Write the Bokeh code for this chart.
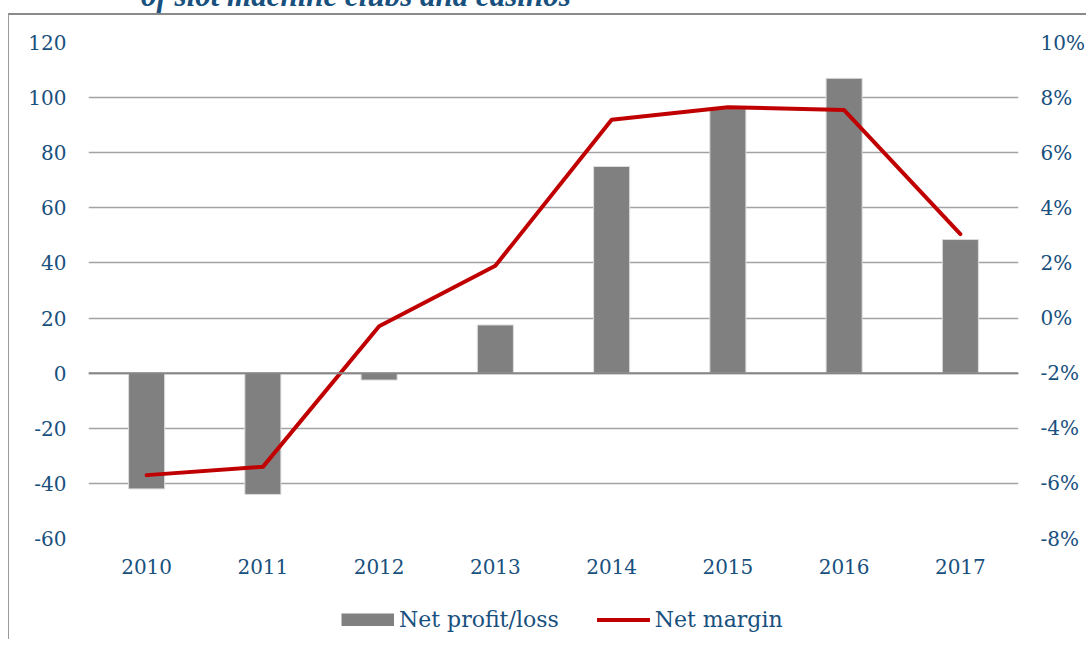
from bokeh.plotting import figure
from bokeh.models import (Range1d, LinearAxis, FixedTicker, PrintfTickFormatter,
                          Legend, LegendItem, Span, Div, ColumnDataSource, FactorRange)
from bokeh.layouts import column
from bokeh.embed import file_html
from bokeh.resources import INLINE

# ---- data ----
years = ["2010", "2011", "2012", "2013", "2014", "2015", "2016", "2017"]
net_profit = [-42, -44, -2.5, 17.5, 75, 96, 107, 48.5]          # left axis
net_margin = [-5.7, -5.4, -0.3, 1.9, 7.2, 7.65, 7.55, 3.05]       # right axis, %
left_ticks = [-60, -40, -20, 0, 20, 40, 60, 80, 100, 120]
right_ticks = [-8, -6, -4, -2, 0, 2, 4, 6, 8, 10]
title_text = "of slot machine clubs and casinos"
series_names = ["Net profit/loss", "Net margin"]

TEXT = "#18507e"
FONT = "DejaVu Serif"
BAR = "#808080"
RED = "#c00000"
GRID = "#a3a3a3"

src = ColumnDataSource(dict(year=years, profit=net_profit, margin=net_margin))

# ---------------- main chart ----------------
p = figure(width=1078, height=579, x_range=FactorRange(*years),
           y_range=Range1d(-60, 120), output_backend="svg",
           toolbar_location=None, tools="")
p.styles = {"border-top": "2px solid #8a8a8a", "border-left": "1px solid #9a9a9a"}
p.min_border_left = 79
p.min_border_right = 67
p.min_border_top = 27
p.min_border_bottom = 56
p.outline_line_color = None
p.background_fill_color = "white"
p.border_fill_color = "white"

p.extra_y_ranges = {"pct": Range1d(-8, 10)}

p.xgrid.grid_line_color = None
p.ygrid.ticker = FixedTicker(ticks=left_ticks)
p.ygrid.grid_line_color = GRID
p.ygrid.grid_line_width = 1.5

zero = Span(location=0, dimension="width", line_color="#868686", line_width=2)
p.add_layout(zero)

line_style = dict(line_color=RED, line_width=4, line_join="round", line_cap="round")

p.vbar(x="year", top="profit", bottom=0, width=0.31, source=src,
       fill_color=BAR, line_color="#dcdcdc", line_width=1)
p.line(x="year", y="margin", source=src, y_range_name="pct", **line_style)

def style_axis(ax, standoff):
    ax.axis_line_color = None
    ax.major_tick_line_color = None
    ax.minor_tick_line_color = None
    ax.major_tick_out = 0
    ax.major_tick_in = 0
    ax.minor_tick_out = 0
    ax.major_label_standoff = standoff
    ax.major_label_text_font = FONT
    ax.major_label_text_font_size = "20px"
    ax.major_label_text_color = TEXT

p.yaxis.ticker = FixedTicker(ticks=left_ticks)
p.yaxis.formatter = PrintfTickFormatter(format="%d")
style_axis(p.yaxis[0], 22)
style_axis(p.xaxis[0], 20)
raxis = LinearAxis(y_range_name="pct", ticker=FixedTicker(ticks=right_ticks),
                   formatter=PrintfTickFormatter(format="%d%%"))
style_axis(raxis, 22)
p.add_layout(raxis, "right")

# ---------------- legend strip ----------------
lg = figure(width=1078, height=47, x_range=Range1d(0, 1), y_range=Range1d(0, 1),
            output_backend="svg", toolbar_location=None, tools="",
            x_axis_location=None, y_axis_location=None)
lg.styles = {"border-left": "1px solid #9a9a9a"}
lg.min_border = 0
lg.min_border_left = 0
lg.min_border_right = 0
lg.min_border_top = 0
lg.min_border_bottom = 0
lg.outline_line_color = None
lg.grid.visible = False
lg.background_fill_color = "white"
lg.border_fill_color = "white"
nan = float("nan")
legend_src = ColumnDataSource(dict(x=[nan], y=[nan]))
# legend key for the bars: a thick grey stroke gives a 53x13 swatch
r_bar = lg.line(x="x", y="y", source=legend_src, line_color=BAR,
                line_width=13, line_cap="butt")
r_line = lg.line(x="x", y="y", source=legend_src, **line_style)

legend = Legend(items=[LegendItem(label=series_names[0], renderers=[r_bar]),
                       LegendItem(label=series_names[1], renderers=[r_line])],
                orientation="horizontal", location=(253, 7),
                glyph_width=53, glyph_height=13, label_standoff=5, spacing=38,
                padding=0, margin=0, border_line_color=None,
                background_fill_alpha=0,
                label_text_font=FONT, label_text_font_size="22px",
                label_text_color=TEXT)
lg.add_layout(legend, "center")

title_div = Div(
    text=('<span style="font-family:\'Liberation Serif\';font-style:italic;'
          'font-weight:bold;font-size:31px;line-height:30px;color:%s;'
          'white-space:nowrap;margin-left:128px;position:relative;top:5px;">%s</span>')
         % (TEXT, title_text),
    width=1078, height=32, styles={"margin-top": "-24px"})

layout = column(title_div, p, lg, spacing=0, styles={"margin-left": "8px"})

html = file_html(layout, INLINE, title="chart")
open("out.html", "w").write(html)
